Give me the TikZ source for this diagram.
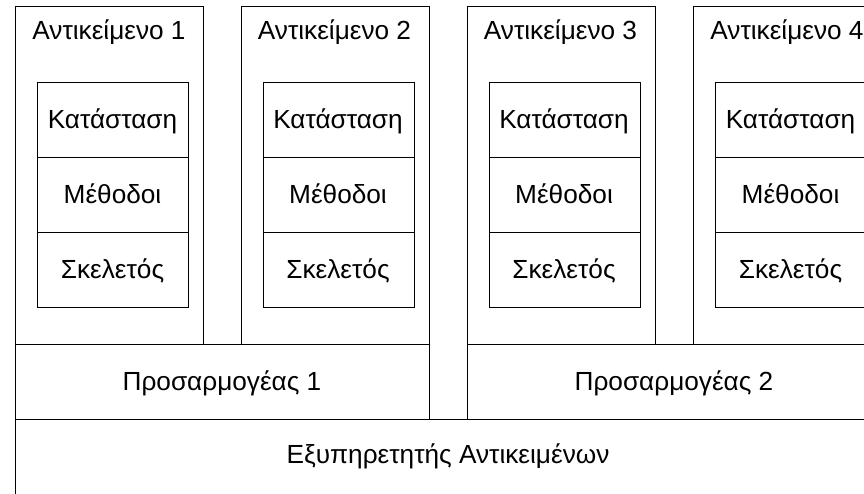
\documentclass[tikz,border=0pt]{standalone}
\usepackage{fontspec}
\setmainfont{Liberation Sans}
\begin{document}
\begin{tikzpicture}[x=1pt,y=-1pt,
  box/.style={draw=black,line width=1.4pt,fill=none,inner sep=0pt,anchor=north west,rectangle},
  lbl/.style={font=\fontsize{26.2}{31}\selectfont,anchor=base,inner sep=0pt}]
\useasboundingbox (0,0) rectangle (864,493);
\clip (0,0) rectangle (864,493);
\fill[white] (0,0) rectangle (864,493);
% server
\node[box,minimum width=866,minimum height=90] (srv) at (15,419) {};
\node[lbl] (srvt) at (448,463.5) {Εξυπηρετητής Αντικειμένων};
% adapters
\node[box,minimum width=414,minimum height=75] (ad1) at (15,344) {};
\node[lbl] (ad1t) at (222,390) {Προσαρμογέας 1};
\node[box,minimum width=415,minimum height=75] (ad2) at (466.5,344) {};
\node[lbl] (ad2t) at (674,390) {Προσαρμογέας 2};
% objects
\foreach \i/\L in {1/15,2/240.5,3/466.5,4/693}{
  \node[box,minimum width=188,minimum height=338] (o\i) at (\L,6) {};
  \node[lbl] (o\i t) at (\L+94,39) {Αντικείμενο \i};
  \node[box,minimum width=151,minimum height=75] (s\i) at (\L+22,81.5) {};
  \node[lbl] (s\i t) at (\L+97.5,128.5) {Κατάσταση};
  \node[box,minimum width=151,minimum height=75] (m\i) at (\L+22,156.5) {};
  \node[lbl] (m\i t) at (\L+97.5,203.5) {Μέθοδοι};
  \node[box,minimum width=151,minimum height=75] (k\i) at (\L+22,231.5) {};
  \node[lbl] (k\i t) at (\L+97.5,278.5) {Σκελετός};
}
\end{tikzpicture}
\end{document}
